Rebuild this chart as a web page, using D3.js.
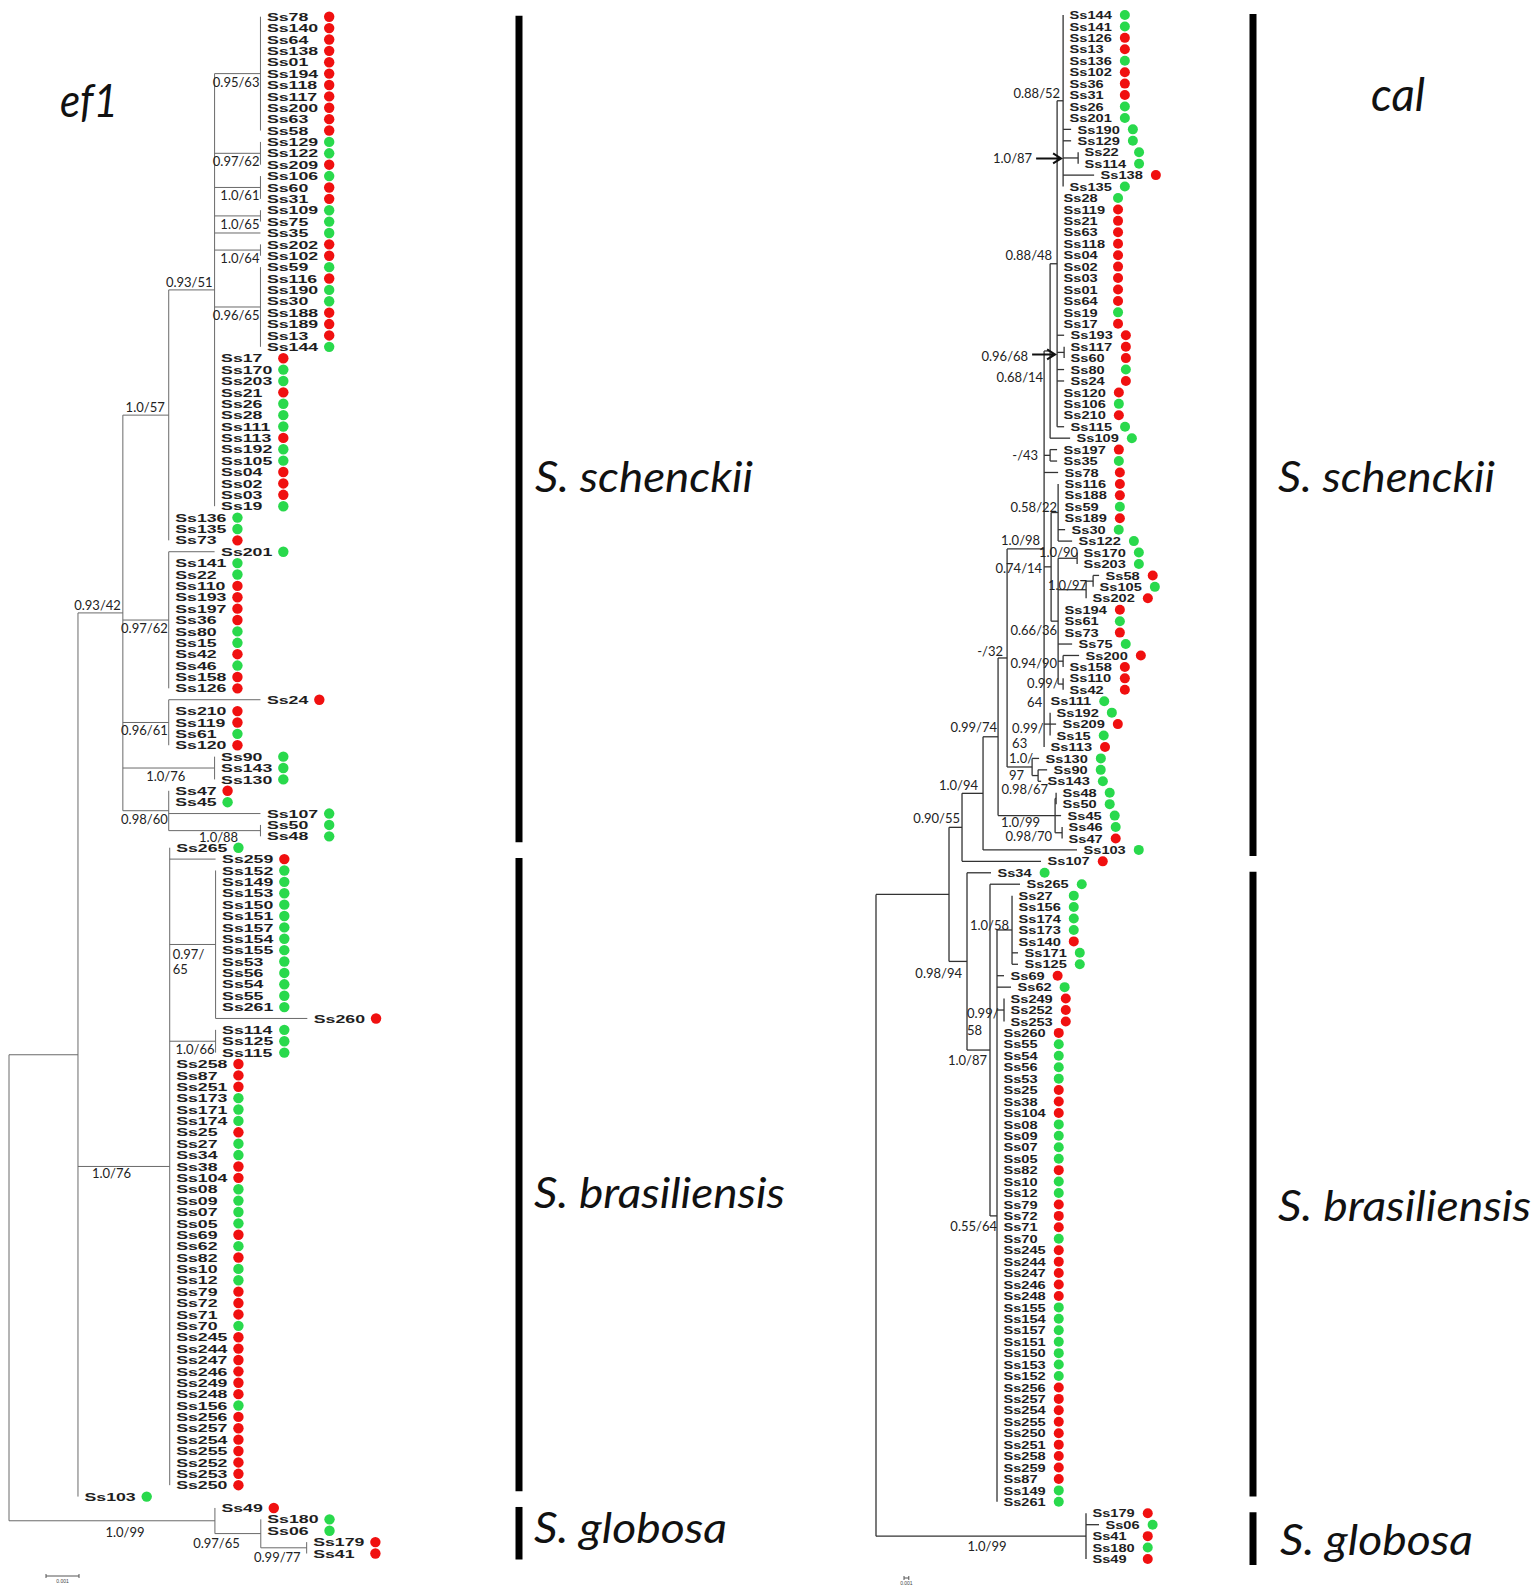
<!DOCTYPE html>
<html>
<head>
<meta charset="utf-8">
<script src="https://cdn.jsdelivr.net/npm/d3@7"></script>
<style>
html, body { margin: 0; padding: 0; background: #fff; }
svg { display: block; }
.leaf { font-family: "Liberation Sans", Arial, sans-serif; font-weight: bold; font-size: 11.5px; fill: #1e1e1e; }
.sup { font-family: Lato, "Liberation Sans", sans-serif; font-size: 13px; fill: #222; }
.big { font-family: Lato, "Open Sans", sans-serif; font-style: italic; fill: #111; }
.bar { font-family: "Liberation Sans", Arial, sans-serif; fill: #444; }
</style>
</head>
<body>
<div class="svg-container"></div>
<script>
// ---------- data ----------
var geneNames = ["ef1", "cal"];
var speciesNames = ["S. schenckii", "S. brasiliensis", "S. globosa"];
var scaleBarValue = 0.001;

// ef1 tree (support = BI posterior / ML bootstrap, branch lengths in subst./site)
var ef1Newick =
  "((((((Ss78,Ss140,Ss64,Ss138,Ss01,Ss194,Ss118,Ss117,Ss200,Ss63,Ss58)'0.95/63':0.00139," +
  "(Ss129,Ss122,Ss209)'0.97/62':0.00139,(Ss106,Ss60,Ss31)'1.0/61':0.00139,(Ss109,Ss75)'1.0/65':0.00139,Ss35:0.00139," +
  "(Ss202,Ss102)'1.0/64':0.00139,(Ss59,Ss116,Ss190,Ss30,Ss188,Ss189,Ss13,Ss144)'0.96/65':0.00139," +
  "Ss17,Ss170,Ss203,Ss21,Ss26,Ss28,Ss111,Ss113,Ss192,Ss105,Ss04,Ss02,Ss03,Ss19)'0.93/51':0.00139," +
  "Ss136,Ss135,Ss73)'1.0/57':0.00139," +
  "(Ss201:0.00139,Ss141,Ss22,Ss110,Ss193,Ss197,Ss36,Ss80,Ss15,Ss42,Ss46,Ss158,Ss126)'0.97/62':0.00139," +
  "(Ss24:0.00278,Ss210,Ss119,Ss61,Ss120)'0.96/61':0.00139," +
  "(Ss90,Ss143,Ss130)'1.0/76':0.00278," +
  "(Ss47,Ss45,Ss107:0.00278,(Ss50,Ss48)'1.0/88':0.00278)'0.98/60':0.00139)'0.93/42':0.00136," +
  "(Ss265,Ss259:0.00139,(Ss152,Ss149,Ss153,Ss150,Ss151,Ss157,Ss154,Ss155,Ss53,Ss56,Ss54,Ss55,Ss261,Ss260:0.00278)'0.97/65':0.00139," +
  "(Ss114,Ss125,Ss115)'1.0/66':0.00139," +
  "Ss258,Ss87,Ss251,Ss173,Ss171,Ss174,Ss25,Ss27,Ss34,Ss38,Ss104,Ss08,Ss09,Ss07,Ss05,Ss69,Ss62,Ss82,Ss10,Ss12," +
  "Ss79,Ss72,Ss71,Ss70,Ss245,Ss244,Ss247,Ss246,Ss249,Ss248,Ss156,Ss256,Ss257,Ss254,Ss255,Ss252,Ss253,Ss250)'1.0/76':0.00278," +
  "Ss103):0.00209," +
  "(Ss49,(Ss180,Ss06,(Ss179,Ss41)'0.99/77':0.00139)'0.97/65':0.00139)'1.0/99':0.00624);";

var ef1Red = ["Ss78","Ss140","Ss64","Ss138","Ss01","Ss194","Ss118","Ss117","Ss200","Ss63","Ss58","Ss209","Ss60","Ss31",
  "Ss202","Ss102","Ss116","Ss188","Ss189","Ss13","Ss17","Ss21","Ss113","Ss04","Ss02","Ss03","Ss73","Ss110","Ss193",
  "Ss197","Ss36","Ss42","Ss158","Ss126","Ss24","Ss210","Ss119","Ss120","Ss47","Ss259","Ss260","Ss258","Ss87","Ss251",
  "Ss25","Ss38","Ss104","Ss69","Ss82","Ss79","Ss72","Ss71","Ss245","Ss244","Ss247","Ss246","Ss249","Ss248","Ss256",
  "Ss257","Ss254","Ss255","Ss252","Ss253","Ss250","Ss49","Ss179","Ss41"];

// cal tree
var calNewick =
  "((((((((((Ss144,Ss141,Ss126,Ss13,Ss136,Ss102,Ss36,Ss31,Ss26,Ss201,Ss190:0.00167,Ss129:0.00167," +
  "(Ss22,Ss114)'1.0/87':0.00313,Ss138:0.00646,Ss135)'0.88/52':0.00125," +
  "Ss28,Ss119,Ss21,Ss63,Ss118,Ss04,Ss02,Ss03,Ss01,Ss64,Ss19,Ss17,Ss193:0.00146,(Ss117,Ss60)'0.96/68':0.00146," +
  "Ss80:0.00146,Ss24:0.00146,Ss120,Ss106,Ss210,Ss115:0.00146)'0.88/48':0.00146," +
  "Ss109:0.00417)'0.68/14':0.00125," +
  "(Ss197:0.00146,Ss35:0.00146)'-/43':0.00125,Ss78:0.00292," +
  "((Ss116,Ss188,Ss59,Ss189,Ss30:0.00146,Ss122:0.00292)'0.58/22':0.00146," +
  "((Ss170,Ss203)'1.0/90':0.00396,((Ss58:0.00125,Ss105):0.00146,Ss202)'1.0/97':0.00583,Ss194,Ss61,Ss73,Ss75:0.00292," +
  "(Ss200:0.00333,Ss158)'0.94/90':0.00104,(Ss110,Ss42)'0.99/64':0.00104)'0.66/36':0.00146)'0.74/14':0.00146," +
  "Ss111,(Ss192,Ss209:0.00125,Ss15)'0.99/63':0.00125,Ss113)'1.0/98':0.00771," +
  "(Ss130:0.00146,(Ss90:0.00188,Ss143:0.00063):0.00125)'1.0/97':0.00521)'-/32':0.00188," +
  "((Ss48,Ss50)'0.98/67':0.00021,Ss45:0.00125,(Ss46,Ss47)'0.98/70':0.00146)'1.0/99':0.01188)'0.99/74':0.00313," +
  "Ss103:0.01958)'1.0/94':0.00438," +
  "Ss107:0.01646)'0.90/55':0.00271," +
  "(Ss34:0.00500,(Ss265:0.00625,((Ss27,Ss156,Ss174,Ss173,Ss140,Ss171:0.00125,Ss125:0.00125)'1.0/58':0.00313," +
  "Ss69:0.00146,Ss62:0.00292,(Ss249,Ss252,Ss253)'0.99/58':0.00146,Ss260,Ss55,Ss54,Ss56,Ss53,Ss25,Ss38,Ss104," +
  "Ss08,Ss09,Ss07,Ss05,Ss82,Ss10,Ss12,Ss79,Ss72,Ss71,Ss70,Ss245,Ss244,Ss247,Ss246,Ss248,Ss155,Ss154,Ss157,Ss151," +
  "Ss150,Ss153,Ss152,Ss256,Ss257,Ss254,Ss255,Ss250,Ss251,Ss258,Ss259,Ss87,Ss149,Ss261)'0.55/64':0.00146)'1.0/87':0.00479)'0.98/94':0.00375):0.01521," +
  "(Ss179,Ss06:0.00271,Ss41,Ss180,Ss49)'1.0/99':0.04375);";

var calRed = ["Ss126","Ss13","Ss102","Ss36","Ss31","Ss138","Ss119","Ss21","Ss63","Ss118","Ss04","Ss02","Ss03","Ss01",
  "Ss64","Ss17","Ss193","Ss117","Ss60","Ss24","Ss120","Ss210","Ss197","Ss78","Ss116","Ss188","Ss189","Ss58","Ss202",
  "Ss194","Ss73","Ss200","Ss158","Ss110","Ss42","Ss209","Ss113","Ss47","Ss107","Ss140","Ss69","Ss249","Ss252","Ss253",
  "Ss260","Ss25","Ss38","Ss104","Ss82","Ss79","Ss72","Ss71","Ss245","Ss244","Ss247","Ss246","Ss248","Ss256","Ss257",
  "Ss254","Ss255","Ss250","Ss251","Ss258","Ss259","Ss87","Ss179","Ss41","Ss49"];

// first / last isolate of each species block
var ef1Clades = [["Ss78", "Ss48"], ["Ss259", "Ss250"], ["Ss49", "Ss41"]];
var calClades = [["Ss144", "Ss103"], ["Ss34", "Ss149"], ["Ss179", "Ss49"]];

// ---------- drawing ----------
var W = 1539, H = 1587;
var RED = "#f01010", GREEN = "#29d94c";

var svg = d3.select(".svg-container").append("svg")
  .attr("width", W).attr("height", H)
  .attr("viewBox", "0 0 " + W + " " + H);

function parseNewick(s) {
  var i = 0;
  function node() {
    var n = { name: "", length: 0, children: null };
    if (s[i] === "(") {
      n.children = [];
      i++;
      n.children.push(node());
      while (s[i] === ",") { i++; n.children.push(node()); }
      i++; // ')'
    }
    if (s[i] === "'") {
      var j = s.indexOf("'", i + 1);
      n.name = s.slice(i + 1, j);
      i = j + 1;
    } else {
      var m = /^[^:,();]*/.exec(s.slice(i));
      n.name = m[0];
      i += m[0].length;
    }
    if (s[i] === ":") {
      var m2 = /^:([0-9.eE-]+)/.exec(s.slice(i));
      n.length = +m2[1];
      i += m2[0].length;
    }
    return n;
  }
  return node();
}

function buildTree(newick, o) {
  var root = d3.hierarchy(parseNewick(newick.replace(/\s+/g, "")), function(d) { return d.children; });
  root.eachBefore(function(d) { d.len = d.parent ? d.parent.len + d.data.length : 0; });
  var leaves = root.leaves();
  var y = d3.scalePoint().domain(leaves.map(function(d) { return d.data.name; })).range(o.yRange);
  var x = d3.scaleLinear().domain([0, scaleBarValue]).range([o.rootX, o.rootX + o.pxPerBar]);
  root.eachAfter(function(d) {
    d.px = x(d.len);
    d.py = d.children ? (d.children[0].py + d.children[d.children.length - 1].py) / 2 : y(d.data.name);
  });
  return { root: root, leaves: leaves, x: x, y: y };
}

function drawTree(t, o) {
  var g = svg.append("g");
  var nodes = t.root.descendants();

  // horizontal branches
  g.selectAll("line.h").data(nodes.filter(function(d) { return d.parent && d.px - d.parent.px > 0.2; }))
    .enter().append("line").attr("class", "h")
    .attr("x1", function(d) { return d.parent.px; }).attr("x2", function(d) { return d.px; })
    .attr("y1", function(d) { return d.py; }).attr("y2", function(d) { return d.py; })
    .attr("stroke", o.stroke).attr("stroke-width", o.sw);

  // vertical connectors
  g.selectAll("line.v").data(nodes.filter(function(d) { return d.children; }))
    .enter().append("line").attr("class", "v")
    .attr("x1", function(d) { return d.px; }).attr("x2", function(d) { return d.px; })
    .attr("y1", function(d) { return d.children[0].py; })
    .attr("y2", function(d) { return d.children[d.children.length - 1].py; })
    .attr("stroke", o.stroke).attr("stroke-width", o.sw);

  // leaf names, stretched like the original
  g.selectAll("text.leaf").data(t.leaves).enter().append("text").attr("class", "leaf")
    .attr("x", function(d) { return d.px + o.textGap; })
    .attr("y", function(d) { return d.py; })
    .attr("dy", "0.36em")
    .text(function(d) { return d.data.name; })
    .each(function(d) {
      d.tw = this.getComputedTextLength() * o.stretch;
      d3.select(this).attr("textLength", d.tw).attr("lengthAdjust", "spacingAndGlyphs");
    });

  // markers aligned per run of leaves with the same tip position
  var groups = [], cur = null;
  t.leaves.forEach(function(d) {
    var tx = Math.round(d.px);
    if (!cur || cur.tx !== tx) { cur = { tx: tx, items: [] }; groups.push(cur); }
    cur.items.push(d);
  });
  groups.forEach(function(gr) {
    var end = d3.max(gr.items, function(d) { return d.px + o.textGap + d.tw; });
    gr.items.forEach(function(d) { d.mx = end + o.dotGap; });
  });
  g.selectAll("circle").data(t.leaves).enter().append("circle")
    .attr("cx", function(d) { return d.mx; })
    .attr("cy", function(d) { return d.py; })
    .attr("r", o.r)
    .attr("fill", function(d) { return o.red.indexOf(d.data.name) >= 0 ? RED : GREEN; });

  // support values (pre-order, so repeated values keep their order)
  var seen = {};
  t.root.eachBefore(function(d) {
    if (!d.children || !d.data.name || !d.parent) return;
    var name = d.data.name;
    seen[name] = (seen[name] || 0) + 1;
    var f = o.fmt[name + "#" + seen[name]] || o.defFmt;
    var a = f.a || "end", tx;
    if (a === "start") tx = d.parent.px + f.dx;
    else if (a === "middle") tx = (d.parent.px + d.px) / 2 + f.dx;
    else if (f.arrow) tx = d.parent.px + f.dx;
    else tx = d.px + f.dx;
    var lines = f.split ? [name.slice(0, name.indexOf("/") + 1), name.slice(name.indexOf("/") + 1)] : [name];
    lines.forEach(function(s, k) {
      g.append("text").attr("class", "sup")
        .attr("x", tx).attr("y", d.py + f.dy + k * (f.split || 0))
        .attr("text-anchor", a).text(s);
    });
    if (f.arrow) {
      var x1 = tx + 4, x2 = d.parent.px - 2, ay = d.py + f.ay;
      g.append("path")
        .attr("d", "M" + x1 + "," + ay + "H" + x2 + "M" + (x2 - 8) + "," + (ay - 5) + "L" + x2 + "," + ay + "L" + (x2 - 8) + "," + (ay + 5))
        .attr("fill", "none").attr("stroke", "#111").attr("stroke-width", 2);
    }
  });

  // species bars
  o.clades.forEach(function(c) {
    g.append("line")
      .attr("x1", o.barX).attr("x2", o.barX)
      .attr("y1", t.y(c[0]) - 1).attr("y2", t.y(c[1]) + 6)
      .attr("stroke", "#000").attr("stroke-width", 7);
  });

  // scale bar
  var sb = t.x(scaleBarValue) - t.x(0);
  g.append("path")
    .attr("d", "M" + o.sbX + "," + (o.sbY - 2) + "v4M" + o.sbX + "," + o.sbY + "h" + sb + "M" + (o.sbX + sb) + "," + (o.sbY - 2) + "v4")
    .attr("stroke", "#555").attr("stroke-width", 1).attr("fill", "none");
  g.append("text").attr("class", "bar")
    .attr("x", o.sbX + sb / 2).attr("y", o.sbY + 7)
    .attr("text-anchor", "middle").style("font-size", "5px")
    .text(String(scaleBarValue));
}

// ---------- ef1 ----------
var ef1 = buildTree(ef1Newick, { yRange: [16.7, 1553.5], rootX: 9, pxPerBar: 33 });
drawTree(ef1, {
  stroke: "#6a6a6a", sw: 1, textGap: 6.5, stretch: 1.54, dotGap: 11, r: 5.2, red: ef1Red,
  barX: 519, clades: ef1Clades, sbX: 46, sbY: 1576,
  defFmt: { a: "end", dx: -1, dy: 13 },
  fmt: {
    "0.93/51#1": { a: "end", dx: -2, dy: -3 },
    "1.0/57#1": { a: "end", dx: -4, dy: -3 },
    "0.93/42#1": { a: "end", dx: -2, dy: -3 },
    "1.0/76#1": { a: "middle", dx: -3, dy: 13 },
    "1.0/88#1": { a: "middle", dx: 4, dy: 11 },
    "0.97/65#1": { a: "start", dx: 3, dy: 15, split: 15 },
    "1.0/76#2": { a: "start", dx: 14, dy: 12 },
    "1.0/99#1": { a: "middle", dx: 13, dy: 16 },
    "0.97/65#2": { a: "end", dx: -21, dy: 14 },
    "0.99/77#1": { a: "end", dx: -6, dy: 14 }
  }
});

// ---------- cal ----------
var cal = buildTree(calNewick, { yRange: [15, 1559], rootX: 876, pxPerBar: 4.8 });
drawTree(cal, {
  stroke: "#333", sw: 1.3, textGap: 6.5, stretch: 1.27, dotGap: 13, r: 5, red: calRed,
  barX: 1253, clades: calClades, sbX: 904, sbY: 1578,
  defFmt: { a: "end", dx: -3, dy: -4 },
  fmt: {
    "0.88/52#1": { a: "end", dx: -3, dy: -3 },
    "1.0/87#1": { arrow: true, dx: -31, dy: 5, ay: 0.5 },
    "0.88/48#1": { a: "end", dx: -5, dy: -3.5 },
    "0.96/68#1": { arrow: true, dx: -29, dy: 9, ay: 2 },
    "0.68/14#1": { a: "end", dx: -7, dy: 31 },
    "-/43#1": { a: "end", dx: -12, dy: 5 },
    "0.58/22#1": { a: "end", dx: -1, dy: -1 },
    "1.0/98#1": { a: "end", dx: -4, dy: -3.5 },
    "0.74/14#1": { a: "end", dx: -9, dy: 6.5 },
    "1.0/90#1": { a: "end", dx: 1, dy: -1 },
    "1.0/97#1": { a: "end", dx: 1, dy: 0 },
    "0.66/36#1": { a: "end", dx: -1, dy: 13.5 },
    "0.94/90#1": { a: "end", dx: -6, dy: 6.5 },
    "0.99/64#1": { a: "start", dx: -31, dy: 3.5, split: 19 },
    "0.99/63#1": { a: "start", dx: -32, dy: 8.5, split: 15 },
    "1.0/97#2": { a: "start", dx: 2, dy: -3.5, split: 17 },
    "0.98/67#1": { a: "end", dx: -8, dy: -4.5 },
    "1.0/99#1": { a: "end", dx: -15, dy: 11.5 },
    "0.98/70#1": { a: "end", dx: -10, dy: 8.5 },
    "-/32#1": { a: "end", dx: -4, dy: -1.5 },
    "0.99/74#1": { a: "end", dx: -1, dy: -4.5 },
    "1.0/94#1": { a: "end", dx: -5, dy: -3.5 },
    "0.90/55#1": { a: "end", dx: -2, dy: -4.5 },
    "0.98/94#1": { a: "end", dx: -5, dy: 16.5 },
    "1.0/87#2": { a: "end", dx: -3, dy: 14.5 },
    "1.0/58#1": { a: "end", dx: -3, dy: 0.5 },
    "0.99/58#1": { a: "start", dx: -30, dy: 7.5, split: 17 },
    "0.55/64#1": { a: "end", dx: 0, dy: 15.5 },
    "1.0/99#2": { a: "middle", dx: 6, dy: 14.5 }
  }
});

// ---------- titles and species names ----------
var titlePos = [[60, 117, 58], [1371, 111, 54]];
geneNames.forEach(function(n, k) {
  svg.append("text").attr("class", "big")
    .attr("x", titlePos[k][0]).attr("y", titlePos[k][1])
    .attr("textLength", titlePos[k][2]).attr("lengthAdjust", "spacingAndGlyphs")
    .style("font-size", "46px").text(n);
});

var speciesPos = [
  [[535, 492, 218], [534, 1208, 251], [534, 1543, 193]],
  [[1278, 492, 217], [1278, 1221, 253], [1280, 1555, 193]]
];
speciesPos.forEach(function(col) {
  col.forEach(function(p, k) {
    svg.append("text").attr("class", "big")
      .attr("x", p[0]).attr("y", p[1])
      .attr("textLength", p[2]).attr("lengthAdjust", "spacingAndGlyphs")
      .style("font-size", "42px").text(speciesNames[k]);
  });
});
</script>
</body>
</html>
